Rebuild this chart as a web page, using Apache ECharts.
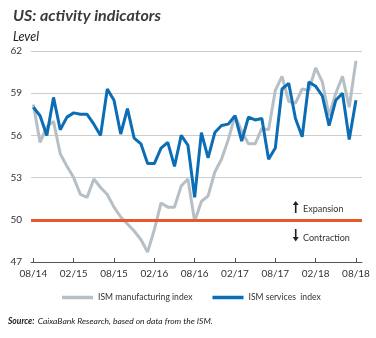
<!DOCTYPE html>
<html><head><meta charset="utf-8">
<script src="https://cdn.jsdelivr.net/npm/echarts@6/dist/echarts.min.js"></script>
<style>html,body{margin:0;padding:0;background:#fff}#c{width:376px;height:338px}</style>
</head><body><div id="c"></div>
<script>
const months = ['08/14','09/14','10/14','11/14','12/14',
  '01/15','02/15','03/15','04/15','05/15','06/15','07/15','08/15','09/15','10/15','11/15','12/15',
  '01/16','02/16','03/16','04/16','05/16','06/16','07/16','08/16','09/16','10/16','11/16','12/16',
  '01/17','02/17','03/17','04/17','05/17','06/17','07/17','08/17','09/17','10/17','11/17','12/17',
  '01/18','02/18','03/18','04/18','05/18','06/18','07/18','08/18'];
const tickLabels = ['08/14','02/15','08/15','02/16','08/16','02/17','08/17','02/18','08/18'];
const manufacturing = [58.2,55.5,56.6,57.0,54.7,
  53.8,53.0,51.8,51.6,52.9,52.3,51.8,50.9,50.2,49.7,49.2,48.6,
  47.7,49.3,51.2,50.9,50.9,52.4,52.9,49.9,51.3,51.7,53.4,54.3,
  55.7,57.4,56.3,55.4,55.4,56.5,56.4,59.2,60.2,58.4,58.3,59.3,
  59.2,60.8,59.8,57.4,59.0,60.2,58.0,61.3];
const services = [58.0,57.4,56.0,58.7,56.4,
  57.3,57.6,57.5,57.5,56.8,56.0,59.3,58.5,56.1,57.9,55.8,55.4,
  54.0,54.0,55.1,55.5,53.8,56.0,55.3,51.6,56.2,54.4,56.2,56.7,
  56.8,57.4,55.6,57.3,57.1,57.2,54.3,55.1,59.3,59.7,57.2,55.9,
  59.8,59.5,58.8,56.7,58.5,59.0,55.7,58.5];
const seriesNames = ['ISM manufacturing index','ISM services  index'];
const threshold = 50;
const yMin = 47, yMax = 62, yStep = 3;

const tickIdx = tickLabels.map(l => months.indexOf(l));
const FONT = 'Lato, "Open Sans", sans-serif';
const chart = echarts.init(document.getElementById('c'), null, {renderer:'canvas'});
chart.setOption({
  animation:false,
  backgroundColor:'#fff',
  textStyle:{fontFamily:FONT},
  title:[
    {text:'US: activity indicators', left:8, top:3,
     textStyle:{fontSize:16, fontWeight:'bold', fontStyle:'italic', color:'#3a3a3a', fontFamily:FONT}},
    {text:'Level', left:8, top:25,
     textStyle:{fontSize:12.5, fontWeight:'normal', fontStyle:'italic', color:'#222', fontFamily:FONT}}
  ],
  grid:{left:31, right:14, top:51, bottom:76, containLabel:false},
  xAxis:{type:'value', min:-0.35, max:48.9,
    axisLine:{show:true, lineStyle:{color:'#555', width:1}},
    axisTick:{show:true, inside:true, length:4, customValues:tickIdx, lineStyle:{color:'#555'}},
    axisLabel:{customValues:tickIdx, formatter:v => months[Math.round(v)], fontSize:10, color:'#333', margin:7, fontFamily:FONT},
    splitLine:{show:false}},
  yAxis:{type:'value', min:yMin, max:yMax, interval:yStep,
    axisLine:{show:false}, axisTick:{show:false},
    axisLabel:{fontSize:10, color:'#333', margin:9, fontFamily:FONT},
    splitLine:{lineStyle:{color:'#cdcdcd', width:1}}},
  legend:{data:seriesNames, left:62, top:293, padding:0, icon:'rect', itemWidth:31, itemHeight:3.5, itemGap:20,
    textStyle:{fontSize:8.6, color:'#333', fontFamily:FONT}},
  series:[
    {name:seriesNames[0], type:'line', data:manufacturing.map((v,i)=>[i,v]), showSymbol:false,
     color:'#b6bfc5', lineStyle:{width:3, color:'#b6bfc5'}, z:2,
     markLine:{silent:true, symbol:['none','none'], label:{show:false},
       lineStyle:{color:'#e8582d', width:3, type:'solid'}, data:[{yAxis:threshold}]}},
    {name:seriesNames[1], type:'line', data:services.map((v,i)=>[i,v]), showSymbol:false,
     color:'#0b6db5', lineStyle:{width:3, color:'#0b6db5'}, z:3}
  ],
  graphic:[
    {type:'line', shape:{x1:295.7,y1:204,x2:295.7,y2:213}, style:{stroke:'#222', lineWidth:1.6}},
    {type:'polygon', shape:{points:[[292.7,205],[298.7,205],[295.7,201]]}, style:{fill:'#222'}},
    {type:'text', left:303, top:205, style:{text:'Expansion', fontSize:9, fill:'#333', fontFamily:FONT}},
    {type:'line', shape:{x1:295.7,y1:229,x2:295.7,y2:238}, style:{stroke:'#222', lineWidth:1.6}},
    {type:'polygon', shape:{points:[[292.7,237],[298.7,237],[295.7,241.5]]}, style:{fill:'#222'}},
    {type:'text', left:303, top:234, style:{text:'Contraction', fontSize:9, fill:'#333', fontFamily:FONT}},
    {type:'text', left:8, top:315, style:{
      text:'{b|Source:} {i|CaixaBank Research, based on data from the ISM.}',
      rich:{b:{fontWeight:'bold', fontStyle:'italic', fontSize:8.5, fill:'#222', fontFamily:FONT},
            i:{fontStyle:'italic', fontSize:8.5, fill:'#222', fontFamily:FONT}}}}
  ]
});
</script></body></html>
